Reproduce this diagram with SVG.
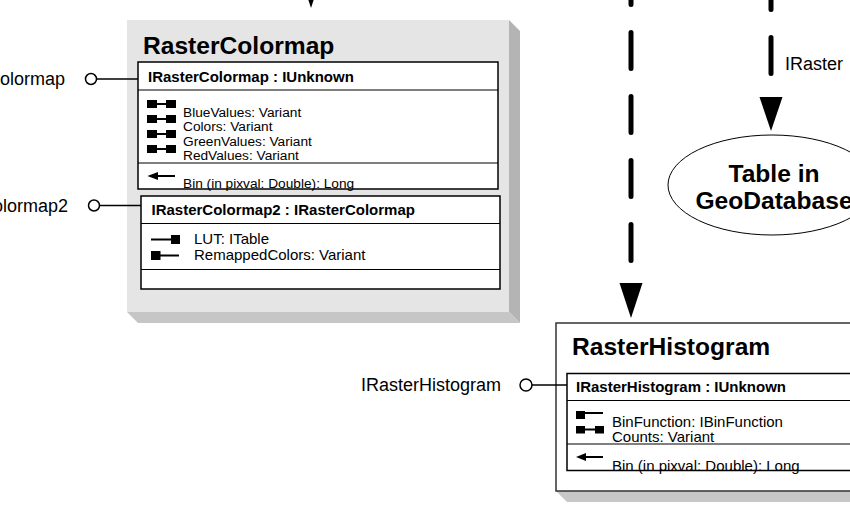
<svg xmlns="http://www.w3.org/2000/svg" width="850" height="508" viewBox="0 0 850 508">
<style>
text{font-family:"Liberation Sans",Arial,sans-serif;fill:#000}
.title{font-size:24.6px;font-weight:bold}
.ifh{font-size:15px;font-weight:bold}
.mem{font-size:15px}
.mems{font-size:13.7px}
.lbl{font-size:18px}
.ibox{fill:#fff;stroke:#000;stroke-width:1.5}
.sep{stroke:#000;stroke-width:1.2;fill:none}
.ico{fill:#000}
.icl{stroke:#000;stroke-width:2;fill:none}
.dash{stroke:#000;stroke-width:5;stroke-linecap:round;stroke-dasharray:36 28;fill:none}
.lol{stroke:#000;stroke-width:1.5;fill:#fff}
.loll{stroke:#000;stroke-width:1.5;fill:none}
</style>
<rect width="850" height="508" fill="#fff"/>

<g id="RasterColormap">
  <polygon points="509,20 520,31 520,323 509,312" fill="#b4b4b4"/>
  <polygon points="127,312 509,312 520,323 138,323" fill="#c6c6c6"/>
  <rect x="127" y="20" width="382" height="292" fill="#e5e5e5"/>
  <text class="title" x="143" y="54">RasterColormap</text>
  <g id="IRasterColormap_box">
    <rect class="ibox" x="138" y="62" width="360" height="127"/>
    <line class="sep" x1="138" y1="90" x2="498" y2="90"/>
    <line class="sep" x1="138" y1="163" x2="498" y2="163"/>
    <text class="ifh" x="148" y="82">IRasterColormap : IUnknown</text>
    <g>
      <rect class="ico" x="147" y="100" width="10" height="8"/><rect class="ico" x="166" y="100" width="10" height="8"/><line class="icl" x1="157" y1="104" x2="166" y2="104"/>
      <rect class="ico" x="147" y="115" width="10" height="8"/><rect class="ico" x="166" y="115" width="10" height="8"/><line class="icl" x1="157" y1="119" x2="166" y2="119"/>
      <rect class="ico" x="147" y="130" width="10" height="8"/><rect class="ico" x="166" y="130" width="10" height="8"/><line class="icl" x1="157" y1="134" x2="166" y2="134"/>
      <rect class="ico" x="147" y="145" width="10" height="8"/><rect class="ico" x="166" y="145" width="10" height="8"/><line class="icl" x1="157" y1="149" x2="166" y2="149"/>
    </g>
    <text class="mems" x="183" y="116.5">BlueValues: Variant</text>
    <text class="mems" x="183" y="131">Colors: Variant</text>
    <text class="mems" x="183" y="145.5">GreenValues: Variant</text>
    <text class="mems" x="183" y="160">RedValues: Variant</text>
    <polygon class="ico" points="147.5,176 158,172 158,180"/>
    <line class="icl" x1="157" y1="176" x2="175" y2="176"/>
    <text class="mems" x="183" y="188">Bin (in pixval: Double): Long</text>
  </g>
  <g id="IRasterColormap2_box">
    <rect class="ibox" x="141" y="196" width="359" height="93"/>
    <line class="sep" x1="141" y1="223.5" x2="500" y2="223.5"/>
    <line class="sep" x1="141" y1="269.5" x2="500" y2="269.5"/>
    <text class="ifh" x="151.5" y="214.5">IRasterColormap2 : IRasterColormap</text>
    <line class="icl" x1="151" y1="239.5" x2="171" y2="239.5"/>
    <rect class="ico" x="171" y="235" width="9" height="9"/>
    <rect class="ico" x="151" y="251" width="9.5" height="9"/>
    <line class="icl" x1="160" y1="255.5" x2="179" y2="255.5"/>
    <text class="mem" x="194" y="244">LUT: ITable</text>
    <text class="mem" x="194" y="260">RemappedColors: Variant</text>
  </g>
</g>

<g id="RasterHistogram">
  <polygon points="556,491 860,491 860,502 567,502" fill="#c8c8c8"/>
  <rect x="556" y="323" width="310" height="168" fill="#fff" stroke="#333" stroke-width="1.5"/>
  <text class="title" x="572" y="355">RasterHistogram</text>
  <g id="IRasterHistogram_box">
    <rect class="ibox" x="567" y="373.5" width="300" height="97"/>
    <line class="sep" x1="567" y1="400.5" x2="867" y2="400.5"/>
    <line class="sep" x1="567" y1="444" x2="867" y2="444"/>
    <text class="ifh" x="576" y="391.5">IRasterHistogram : IUnknown</text>
    <rect class="ico" x="576" y="411" width="9" height="8"/>
    <line class="icl" x1="584" y1="413" x2="603" y2="413"/>
    <rect class="ico" x="576" y="426" width="9" height="7.5"/><rect class="ico" x="595" y="426" width="9" height="7.5"/>
    <line class="icl" x1="585" y1="429.5" x2="595" y2="429.5"/>
    <text class="mem" x="612" y="427">BinFunction: IBinFunction</text>
    <text class="mem" x="612" y="441.5">Counts: Variant</text>
    <polygon class="ico" points="576,457 586,453 586,461"/>
    <line class="icl" x1="585" y1="457" x2="603" y2="457"/>
    <text class="mem" x="612" y="470.5">Bin (in pixval: Double): Long</text>
  </g>
</g>

<g id="TableInGeoDatabase">
  <ellipse cx="772" cy="185" rx="104" ry="50" fill="#fff" stroke="#000" stroke-width="1"/>
  <text class="title" x="774" y="181.5" text-anchor="middle">Table in</text>
  <text class="title" x="774" y="209" text-anchor="middle">GeoDatabase</text>
</g>

<g id="connectors">
  <polygon points="299.5,-27 322.5,-27 311,8" fill="#000"/>
  <line class="dash" x1="631" y1="-31.5" x2="631" y2="262"/>
  <polygon points="619.5,283 642.5,283 631,318" fill="#000"/>
  <line class="dash" x1="771" y1="-26.5" x2="771" y2="74"/>
  <polygon points="759.5,97 782.5,97 771,131" fill="#000"/>
  <text class="lbl" x="785" y="69.5">IRaster</text>

  <line class="loll" x1="96.5" y1="79" x2="138" y2="79"/>
  <circle class="lol" cx="91" cy="79" r="5.5"/>
  <text class="lbl" x="65" y="85" text-anchor="end">IRasterColormap</text>

  <line class="loll" x1="99.5" y1="205.5" x2="141" y2="205.5"/>
  <circle class="lol" cx="94" cy="205.5" r="5.5"/>
  <text class="lbl" x="68" y="211.5" text-anchor="end">IRasterColormap2</text>

  <line class="loll" x1="532" y1="385" x2="567" y2="385"/>
  <circle class="lol" cx="526" cy="385" r="6"/>
  <text class="lbl" x="501" y="391" text-anchor="end">IRasterHistogram</text>
</g>
</svg>
